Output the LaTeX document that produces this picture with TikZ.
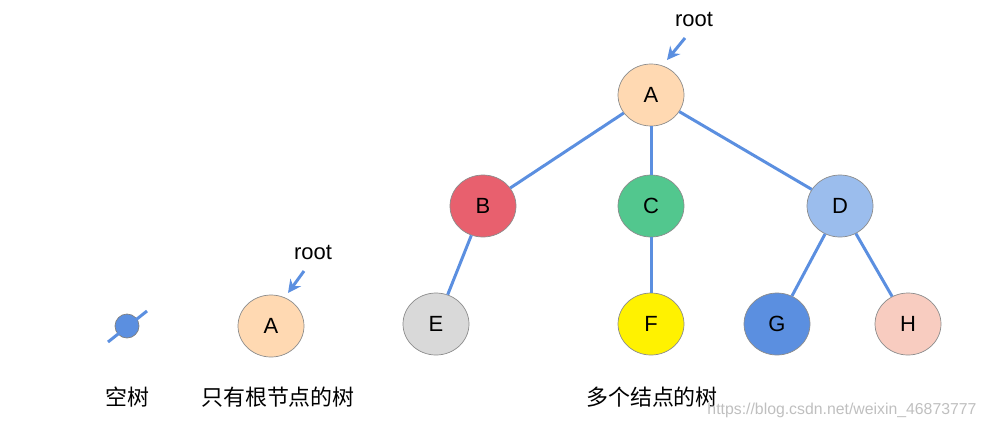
\documentclass[tikz,border=0pt]{standalone}
\usepackage{fontspec}
\setmainfont{Liberation Sans}
\newfontfamily\cjk{Noto Sans CJK SC}
\usetikzlibrary{arrows.meta,positioning,shapes.geometric}
\definecolor{edgeblue}{HTML}{5B8FE0}
\tikzset{tree node/.style={
	draw=black!45,
	ellipse,
	minimum width=13.2mm,
	minimum height=12.4mm,
	inner sep=0mm,
	font=\fontsize{12.5}{14}\selectfont,
},
tree edge/.style={edgeblue, line width=1.7pt},
root arrow/.style={edgeblue, line width=1.7pt, -{Stealth[length=2.6mm,width=2.6mm]}},
caption/.style={font=\cjk\fontsize{12.5}{14}\selectfont},
}
\begin{document}
\begin{tikzpicture}[x=0.2mm,y=-0.2mm]
\useasboundingbox (0,0) rectangle (983,429);

% empty tree
\node[circle, fill=edgeblue, draw=black!50, minimum size=4.8mm, inner sep=0] (e) at (127,326) {};
\coordinate (e1) at (108,342);
\coordinate (e2) at (147,311);
\draw[tree edge] (e1) -- (e2);

% single root
\node[tree node, fill=orange!30] (sA) at (271,326) {A};
\node[font=\fontsize{12.5}{14}\selectfont] (sroot) at (313,253) {root};
\coordinate (sr1) at (304,271);
\coordinate (sr2) at (288,293);
\draw[root arrow] (sr1) -- (sr2);

% tree
\node[tree node, fill=orange!30] (A) at (651,95) {A};
\node[tree node, fill={rgb,255:red,232;green,96;blue,110}] (B) at (483,206) {B};
\node[tree node, fill={rgb,255:red,82;green,199;blue,142}] (C) at (651,206) {C};
\node[tree node, fill={rgb,255:red,155;green,189;blue,237}] (D) at (840,206) {D};
\node[tree node, fill=black!15] (E) at (436,324) {E};
\node[tree node, fill=yellow] (F) at (651,324) {F};
\node[tree node, fill=edgeblue] (G) at (777,324) {G};
\node[tree node, fill={rgb,255:red,248;green,204;blue,192}] (H) at (908,324) {H};
\node[font=\fontsize{12.5}{14}\selectfont] (root) at (694,20) {root};
\coordinate (r1) at (685,38);
\coordinate (r2) at (667,60);
\draw[root arrow] (r1) -- (r2);

\foreach \u/\v in {A/B,A/C,A/D,B/E,C/F,D/G,D/H}{
	\draw[tree edge] (\u) -- (\v);
}

% captions
\node[caption] (c1) at (127,397) {空树};
\node[caption] (c2) at (278,397) {只有根节点的树};
\node[caption] (c3) at (652,397) {多个结点的树};
\node[font=\fontsize{9}{10}\selectfont, text=black!25] (wm) at (842,410) {https://blog.csdn.net/weixin\_46873777};
\end{tikzpicture}
\end{document}
